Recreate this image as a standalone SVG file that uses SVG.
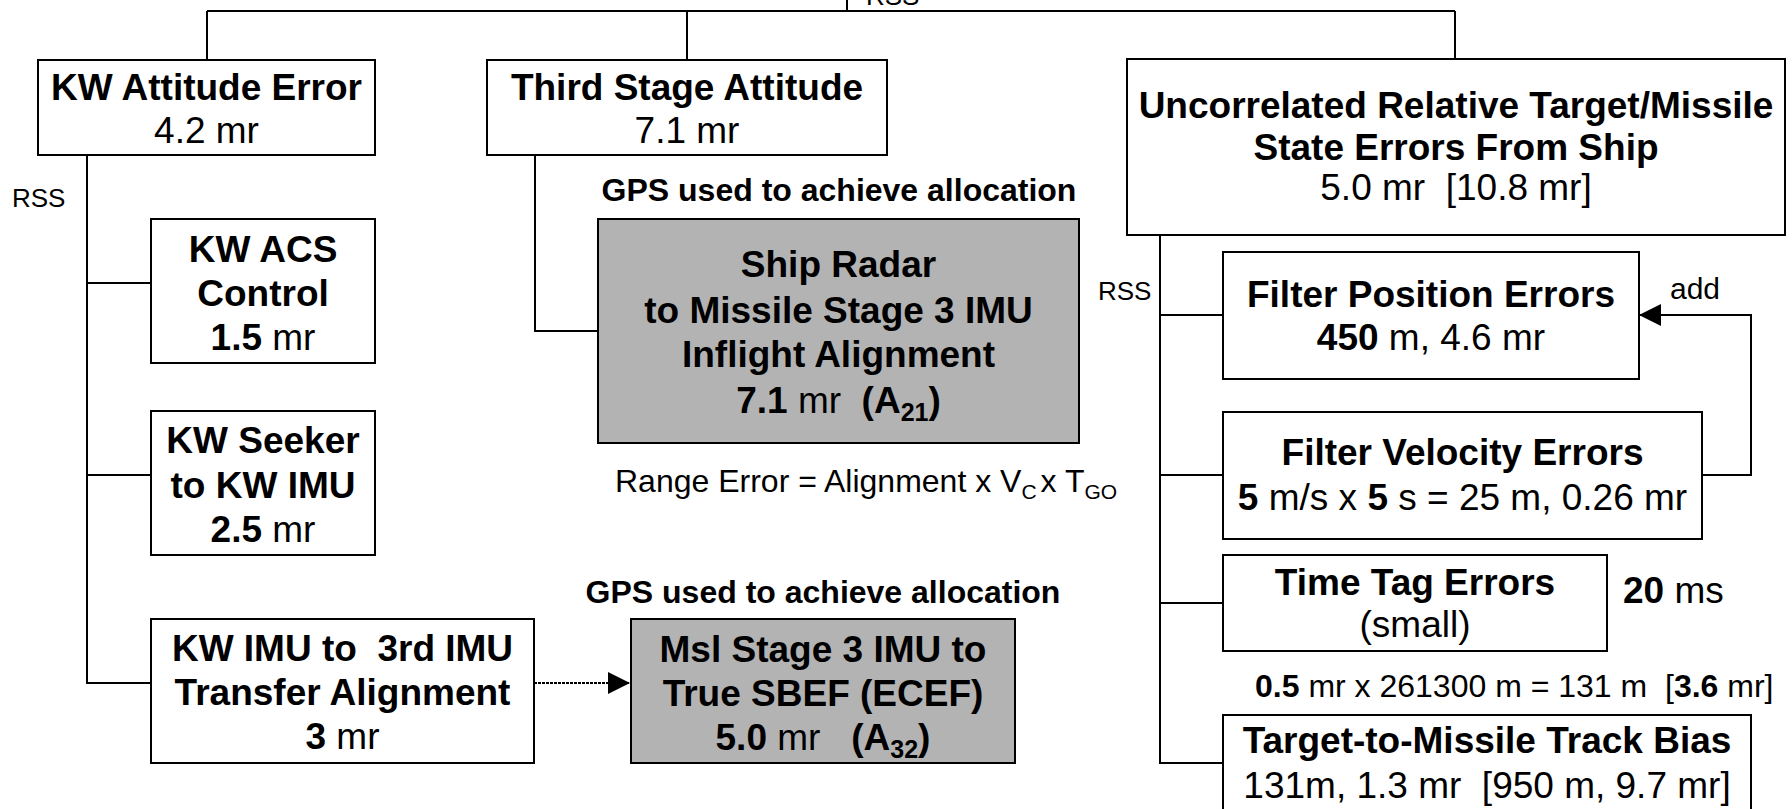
<svg xmlns="http://www.w3.org/2000/svg" width="1792" height="809" viewBox="0 0 1792 809" xml:space="preserve">
<style>
text{font-family:"Liberation Sans",Arial,sans-serif;white-space:pre;fill:#000}
.box{fill:#fff;stroke:#000;stroke-width:2}
.gray{fill:#b3b3b3;stroke:#000;stroke-width:2}
.t{font-size:37px;text-anchor:middle}
.b{font-weight:bold}
.lbl{font-size:26px}
.note{font-size:32px}
.conn line,.conn polyline{stroke:#000;stroke-width:2;fill:none}
.dot{stroke-dasharray:3 1}
</style>
<defs>
<marker id="ah" markerUnits="userSpaceOnUse" markerWidth="24" markerHeight="24" viewBox="0 0 24 24" refX="23" refY="12" orient="auto"><path d="M1,1 L23,12 L1,23 Z" fill="#000"/></marker>
</defs>
<rect width="1792" height="809" fill="#fff"/>
<g class="conn" id="connectors">
<line x1="207" y1="11" x2="1455" y2="11"/>
<line x1="847" y1="0" x2="847" y2="11"/>
<line x1="207" y1="11" x2="207" y2="60"/>
<line x1="687" y1="11" x2="687" y2="60"/>
<line x1="1455" y1="11" x2="1455" y2="59"/>
<line x1="87" y1="155" x2="87" y2="683"/>
<line x1="87" y1="283" x2="151" y2="283"/>
<line x1="87" y1="475" x2="151" y2="475"/>
<line x1="86" y1="683" x2="151" y2="683"/>
<polyline points="535,155 535,331 598,331"/>
<line class="dot" x1="534" y1="683" x2="630" y2="683" marker-end="url(#ah)"/>
<line x1="1160" y1="235" x2="1160" y2="763"/>
<line x1="1160" y1="315" x2="1223" y2="315"/>
<line x1="1160" y1="475" x2="1223" y2="475"/>
<line x1="1160" y1="603" x2="1223" y2="603"/>
<line x1="1159" y1="763" x2="1223" y2="763"/>
<polyline points="1702,475 1751,475 1751,315 1639,315" marker-end="url(#ah)"/>
</g>
<g id="labels">
<text class="lbl" x="866" y="5">RSS</text>
<text class="lbl" x="12" y="207">RSS</text>
<text class="lbl" x="1098" y="300">RSS</text>
<text x="1670" y="299" style="font-size:30px">add</text>
<text class="note b" x="839" y="201" text-anchor="middle">GPS used to achieve allocation</text>
<text class="note b" x="823" y="603" text-anchor="middle">GPS used to achieve allocation</text>
<text class="note" x="615" y="492">Range Error = Alignment x V<tspan dy="7" style="font-size:21px">C</tspan><tspan dx="4" dy="-7">x T</tspan><tspan dy="7" style="font-size:21px">GO</tspan></text>
<text class="note" x="1255" y="697"><tspan class="b">0.5</tspan> mr x 261300 m = 131 m  [<tspan class="b">3.6</tspan> mr]</text>
<text x="1623" y="603" style="font-size:37px"><tspan class="b">20</tspan> ms</text>
</g>
<g id="kw-attitude">
<rect class="box" x="38" y="60" width="337" height="95"/>
<text class="t b" x="206.5" y="100">KW Attitude Error</text>
<text class="t" x="206.5" y="143">4.2 mr</text>
</g>
<g id="third-stage">
<rect class="box" x="487" y="60" width="400" height="95"/>
<text class="t b" x="687" y="100">Third Stage Attitude</text>
<text class="t" x="687" y="143">7.1 mr</text>
</g>
<g id="uncorrelated">
<rect class="box" x="1127" y="59" width="658" height="176"/>
<text class="t b" x="1456" y="118">Uncorrelated Relative Target/Missile</text>
<text class="t b" x="1456" y="160">State Errors From Ship</text>
<text class="t" x="1456" y="200">5.0 mr  [10.8 mr]</text>
</g>
<g id="kw-acs">
<rect class="box" x="151" y="219" width="224" height="144"/>
<text class="t b" x="263" y="262">KW ACS</text>
<text class="t b" x="263" y="306">Control</text>
<text class="t" x="263" y="350"><tspan class="b">1.5</tspan> mr</text>
</g>
<g id="kw-seeker">
<rect class="box" x="151" y="411" width="224" height="144"/>
<text class="t b" x="263" y="453">KW Seeker</text>
<text class="t b" x="263" y="498">to KW IMU</text>
<text class="t" x="263" y="542"><tspan class="b">2.5</tspan> mr</text>
</g>
<g id="kw-imu">
<rect class="box" x="151" y="619" width="383" height="144"/>
<text class="t b" x="342.5" y="661">KW IMU to  3rd IMU</text>
<text class="t b" x="342.5" y="705">Transfer Alignment</text>
<text class="t" x="342.5" y="749"><tspan class="b">3</tspan> mr</text>
</g>
<g id="ship-radar">
<rect class="gray" x="598" y="219" width="481" height="224"/>
<text class="t b" x="838.5" y="277">Ship Radar</text>
<text class="t b" x="838.5" y="323">to Missile Stage 3 IMU</text>
<text class="t b" x="838.5" y="367">Inflight Alignment</text>
<text class="t" x="838.5" y="413"><tspan class="b">7.1</tspan> mr  <tspan class="b">(A<tspan dy="8" style="font-size:25px">21</tspan><tspan dy="-8">)</tspan></tspan></text>
</g>
<g id="msl-stage3">
<rect class="gray" x="631" y="619" width="384" height="144"/>
<text class="t b" x="823" y="662">Msl Stage 3 IMU to</text>
<text class="t b" x="823" y="706">True SBEF (ECEF)</text>
<text class="t" x="823" y="750"><tspan class="b">5.0</tspan> mr   <tspan class="b">(A<tspan dy="8" style="font-size:25px">32</tspan><tspan dy="-8">)</tspan></tspan></text>
</g>
<g id="filter-position">
<rect class="box" x="1223" y="252" width="416" height="127"/>
<text class="t b" x="1431" y="307">Filter Position Errors</text>
<text class="t" x="1431" y="350"><tspan class="b">450</tspan> m, 4.6 mr</text>
</g>
<g id="filter-velocity">
<rect class="box" x="1223" y="412" width="479" height="127"/>
<text class="t b" x="1462.5" y="465">Filter Velocity Errors</text>
<text class="t" x="1462.5" y="510"><tspan class="b">5</tspan> m/s x <tspan class="b">5</tspan> s = 25 m, 0.26 mr</text>
</g>
<g id="time-tag">
<rect class="box" x="1223" y="555" width="384" height="96"/>
<text class="t b" x="1415" y="595">Time Tag Errors</text>
<text class="t" x="1415" y="637">(small)</text>
</g>
<g id="track-bias">
<rect class="box" x="1223" y="715" width="528" height="100"/>
<text class="t b" x="1487" y="753">Target-to-Missile Track Bias</text>
<text class="t" x="1487" y="798">131m, 1.3 mr  [950 m, 9.7 mr]</text>
</g>
</svg>
